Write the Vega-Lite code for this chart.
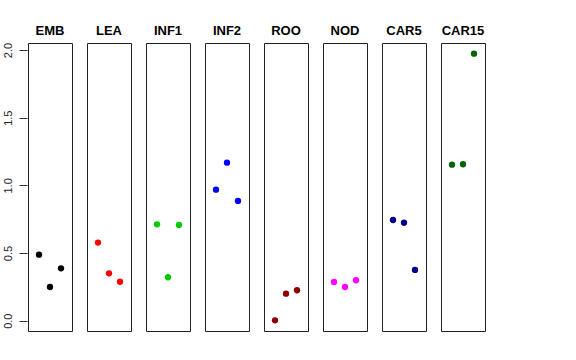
{
  "$schema": "https://vega.github.io/schema/vega-lite/v6.json",
  "background": "white",
  "padding": {"left": 1, "top": 25, "right": 5, "bottom": 5},
  "data": {"values": [
    {"tissue": "EMB", "pos": 1, "value": 0.488},
    {"tissue": "EMB", "pos": 2, "value": 0.249},
    {"tissue": "EMB", "pos": 3, "value": 0.387},
    {"tissue": "LEA", "pos": 1, "value": 0.577},
    {"tissue": "LEA", "pos": 2, "value": 0.350},
    {"tissue": "LEA", "pos": 3, "value": 0.288},
    {"tissue": "INF1", "pos": 1, "value": 0.712},
    {"tissue": "INF1", "pos": 2, "value": 0.321},
    {"tissue": "INF1", "pos": 3, "value": 0.707},
    {"tissue": "INF2", "pos": 1, "value": 0.968},
    {"tissue": "INF2", "pos": 2, "value": 1.168},
    {"tissue": "INF2", "pos": 3, "value": 0.885},
    {"tissue": "ROO", "pos": 1, "value": 0.003},
    {"tissue": "ROO", "pos": 2, "value": 0.200},
    {"tissue": "ROO", "pos": 3, "value": 0.225},
    {"tissue": "NOD", "pos": 1, "value": 0.286},
    {"tissue": "NOD", "pos": 2, "value": 0.249},
    {"tissue": "NOD", "pos": 3, "value": 0.299},
    {"tissue": "CAR5", "pos": 1, "value": 0.744},
    {"tissue": "CAR5", "pos": 2, "value": 0.724},
    {"tissue": "CAR5", "pos": 3, "value": 0.375},
    {"tissue": "CAR15", "pos": 1, "value": 1.153},
    {"tissue": "CAR15", "pos": 2, "value": 1.156},
    {"tissue": "CAR15", "pos": 3, "value": 1.973}
  ]},
  "facet": {
    "column": {
      "field": "tissue",
      "type": "nominal",
      "sort": ["EMB", "LEA", "INF1", "INF2", "ROO", "NOD", "CAR5", "CAR15"],
      "title": null,
      "header": {
        "labelFont": "Liberation Sans",
        "labelFontWeight": "bold",
        "labelFontSize": 13,
        "labelColor": "black",
        "labelPadding": 4
      }
    }
  },
  "spacing": 13,
  "spec": {
    "width": 44,
    "height": 288,
    "mark": {"type": "circle", "size": 40, "opacity": 1},
    "encoding": {
      "x": {
        "field": "pos",
        "type": "quantitative",
        "scale": {"domain": [0, 4], "nice": false, "zero": false},
        "axis": null
      },
      "y": {
        "field": "value",
        "type": "quantitative",
        "scale": {"domain": [-0.076, 2.052], "nice": false, "zero": false},
        "axis": {
          "title": null,
          "values": [0, 0.5, 1, 1.5, 2],
          "format": ".1f",
          "grid": false,
          "domain": false,
          "tickSize": 8,
          "tickColor": "#333",
          "labelAngle": 270,
          "labelAlign": "center",
          "labelBaseline": "bottom",
          "labelPadding": 6,
          "labelFont": "Liberation Sans",
          "labelFontSize": 11,
          "labelColor": "#222"
        }
      },
      "color": {
        "field": "tissue",
        "type": "nominal",
        "scale": {
          "domain": ["EMB", "LEA", "INF1", "INF2", "ROO", "NOD", "CAR5", "CAR15"],
          "range": ["#000000", "#FF0000", "#00CD00", "#0000FF", "#8B0000", "#FF00FF", "#00008B", "#006400"]
        },
        "legend": null
      }
    }
  },
  "config": {
    "view": {"stroke": "#222", "strokeWidth": 1}
  }
}
